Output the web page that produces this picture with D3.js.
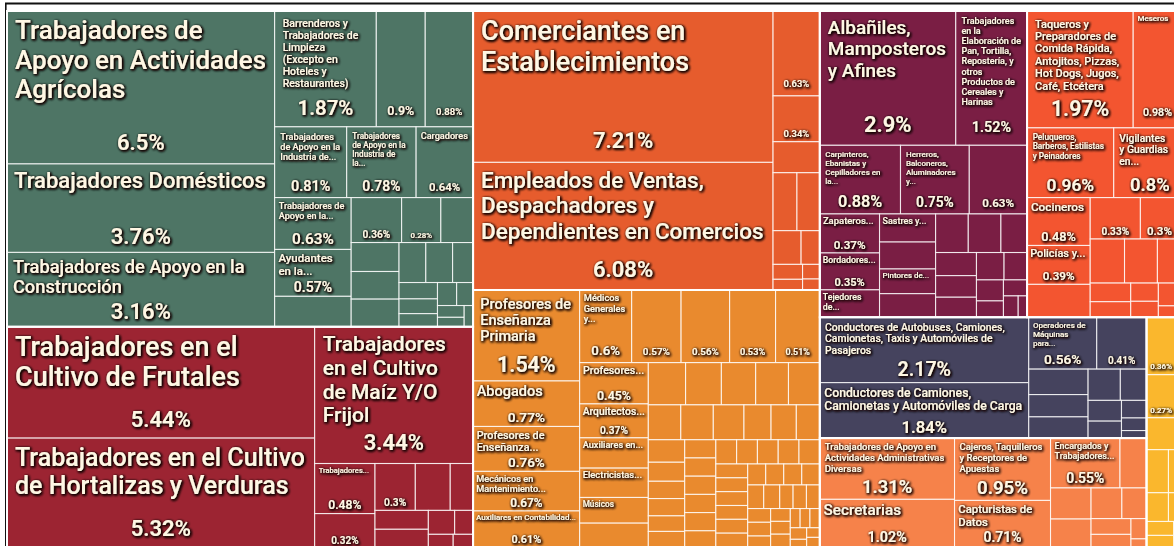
<!DOCTYPE html>
<html>
<head>
<meta charset="utf-8">
<script src="https://cdn.jsdelivr.net/npm/d3@7"></script>
<style>
  html, body { margin: 0; padding: 0; background: #fff; }
  svg { display: block; font-family: Roboto, 'Noto Sans', sans-serif; }
</style>
</head>
<body>
<div id="chart"></div>
<script>
// share of workers by occupation (%), grouped by division
const divisionNames = [
  'Trabajadores en Actividades Elementales y de Apoyo',
  'Trabajadores en Actividades Agrícolas, Ganaderas, Forestales, Caza y Pesca',
  'Comerciantes, Empleados en Ventas y Agentes de Ventas',
  'Profesionistas y Técnicos',
  'Trabajadores Artesanales',
  'Trabajadores en Servicios Personales y Vigilancia',
  'Operadores de Maquinaria Industrial, Ensambladores, Choferes y Conductores de Transporte',
  'Trabajadores Auxiliares en Actividades Administrativas',
  'Funcionarios, Directores y Jefes',
];

const elementalNames = [
  'Trabajadores de Apoyo en Actividades Agrícolas', 'Trabajadores Domésticos',
  'Trabajadores de Apoyo en la Construcción',
  'Barrenderos y Trabajadores de Limpieza (Excepto en Hoteles y Restaurantes)', '', '',
  'Trabajadores de Apoyo en la Industria de...', 'Trabajadores de Apoyo en la Industria de la...',
  'Cargadores', 'Trabajadores de Apoyo en la...', 'Ayudantes en la...',
];
const elementalShares = [6.5, 3.76, 3.16, 1.87, 0.9, 0.88, 0.81, 0.78, 0.64, 0.63, 0.57, 0.37, 0.36,
  0.28, 0.23, 0.22, 0.21, 0.21, 0.17, 0.17, 0.13, 0.1, 0.09, 0.08, 0.07, 0.06, 0.05, 0.04, 0.03];

const agroNames = [
  'Trabajadores en el Cultivo de Frutales', 'Trabajadores en el Cultivo de Hortalizas y Verduras',
  'Trabajadores en el Cultivo de Maíz Y/O Frijol', 'Trabajadores...',
];
const agroShares = [5.44, 5.32, 3.44, 0.48, 0.32, 0.3, 0.26, 0.17, 0.16, 0.15, 0.1, 0.07, 0.05, 0.04];

const ventasNames = [
  'Comerciantes en Establecimientos', 'Empleados de Ventas, Despachadores y Dependientes en Comercios',
];
const ventasShares = [7.21, 6.08, 0.63, 0.34, 0.23, 0.22, 0.21, 0.15, 0.1, 0.07, 0.05, 0.04, 0.03];

const profNames = [
  'Profesores de Enseñanza Primaria', 'Abogados', 'Profesores de Enseñanza...',
  'Mecánicos en Mantenimiento...', 'Auxiliares en Contabilidad...', 'Médicos Generales y...',
  '', '', '', '', 'Profesores...', 'Arquitectos...', 'Auxiliares en...', 'Electricistas...', 'Músicos',
];
const profShares = [1.54, 0.77, 0.76, 0.67, 0.61, 0.6, 0.57, 0.56, 0.53, 0.51, 0.45, 0.37, 0.33, 0.32,
  0.28, 0.26, 0.25, 0.24, 0.23, 0.22, 0.21, 0.18, 0.18, 0.17, 0.15, 0.14, 0.13, 0.13, 0.11, 0.1, 0.1,
  0.09, 0.09, 0.09, 0.09, 0.09, 0.09, 0.09, 0.08, 0.08, 0.08, 0.08, 0.08, 0.08, 0.07, 0.07, 0.07,
  0.07, 0.07, 0.07, 0.06, 0.06, 0.06, 0.06, 0.06, 0.06, 0.05, 0.05, 0.05, 0.05, 0.05, 0.04, 0.04,
  0.04, 0.04, 0.03, 0.03, 0.03, 0.03, 0.02, 0.02, 0.02];

const artesanalNames = [
  'Albañiles, Mamposteros y Afines',
  'Trabajadores en la Elaboración de Pan, Tortilla, Repostería, y otros Productos de Cereales y Harinas',
  'Carpinteros, Ebanistas y Cepilladores en la...', 'Herreros, Balconeros, Aluminadores y...', '',
  'Zapateros...', 'Bordadores...', 'Tejedores de...', 'Sastres y...', '', 'Pintores de...',
];
const artesanalShares = [2.9, 1.52, 0.88, 0.75, 0.63, 0.37, 0.35, 0.26, 0.25, 0.24, 0.22, 0.21, 0.2,
  0.2, 0.16, 0.15, 0.14, 0.13, 0.12, 0.1, 0.09, 0.07, 0.06, 0.05, 0.03];

const serviciosNames = [
  'Taqueros y Preparadores de Comida Rápida, Antojitos, Pizzas, Hot Dogs, Jugos, Café, Etcétera',
  'Meseros', 'Peluqueros, Barberos, Estilistas y Peinadores', 'Vigilantes y Guardias en...',
  'Cocineros', 'Policías y...',
];
const serviciosShares = [1.97, 0.98, 0.96, 0.8, 0.48, 0.39, 0.33, 0.33, 0.3, 0.24, 0.23, 0.2, 0.12,
  0.1, 0.08, 0.07, 0.06, 0.04, 0.03, 0.02];

const transporteNames = [
  'Conductores de Autobuses, Camiones, Camionetas, Taxis y Automóviles de Pasajeros',
  'Conductores de Camiones, Camionetas y Automóviles de Carga', 'Operadores de Máquinas para...',
];
const transporteShares = [2.17, 1.84, 0.56, 0.41, 0.24, 0.21, 0.2, 0.16, 0.13, 0.11, 0.09, 0.07, 0.05, 0.03];

const auxiliaresNames = [
  'Trabajadores de Apoyo en Actividades Administrativas Diversas', 'Secretarias',
  'Cajeros, Taquilleros y Receptores de Apuestas', 'Capturistas de Datos', 'Encargados y Trabajadores...',
];
const auxiliaresShares = [1.31, 1.02, 0.95, 0.71, 0.55, 0.21, 0.2, 0.18, 0.15, 0.12, 0.1, 0.08, 0.05, 0.02];

const directivosNames = [];
const directivosShares = [0.36, 0.27, 0.2, 0.15, 0.12, 0.1, 0.08, 0.06, 0.05, 0.05];

const divisionLeaves = [
  [elementalNames, elementalShares],
  [agroNames, agroShares],
  [ventasNames, ventasShares],
  [profNames, profShares],
  [artesanalNames, artesanalShares],
  [serviciosNames, serviciosShares],
  [transporteNames, transporteShares],
  [auxiliaresNames, auxiliaresShares],
  [directivosNames, directivosShares],
];

const palette = ['#4e7565', '#9c2432', '#e65c2d', '#e98a2e', '#7a1e44', '#f35530', '#45435e', '#f6824a', '#fab72d'];

const width = 1174;
const height = 546;
// the treemap runs a little past the right edge of the picture, as in the screenshot
const frame = { left: 7, top: 11, right: 1186, bottom: 547 };
const visibleRight = width - frame.left;
// the tiles are laid out in a narrower box and stretched sideways
const stretch = 1.23;
const plotWidth = frame.right - frame.left;
const plotHeight = frame.bottom - frame.top;
const layoutWidth = plotWidth / stretch;

const tree = {
  name: 'total',
  children: divisionNames.map((name, gi) => ({
    name,
    gi,
    children: divisionLeaves[gi][1].map((value, i) => ({ name: divisionLeaves[gi][0][i] || '', value, gi })),
  })),
};

const root = d3.hierarchy(tree)
  .sum((d) => d.value || 0)
  .sort((a, b) => b.value - a.value);

d3.treemap()
  .tile(d3.treemapSquarify)
  .size([layoutWidth, plotHeight])(root);

const x = d3.scaleLinear().domain([0, layoutWidth]).range([0, plotWidth]);

const svg = d3.select('#chart').append('svg')
  .attr('width', width)
  .attr('height', height);

const defs = svg.append('defs');
const shadow = defs.append('filter')
  .attr('id', 'txt-shadow')
  .attr('filterUnits', 'userSpaceOnUse')
  .attr('x', 0).attr('y', 0)
  .attr('width', width).attr('height', height);
shadow.append('feGaussianBlur').attr('in', 'SourceAlpha').attr('stdDeviation', 1.5).attr('result', 'blur');
shadow.append('feOffset').attr('in', 'blur').attr('dx', 0.8).attr('dy', 1).attr('result', 'off');
shadow.append('feFlood').attr('flood-color', '#1c0c06').attr('flood-opacity', 0.95);
shadow.append('feComposite').attr('in2', 'off').attr('operator', 'in').attr('result', 'shade');
const merge = shadow.append('feMerge');
merge.append('feMergeNode').attr('in', 'shade');
merge.append('feMergeNode').attr('in', 'shade');
merge.append('feMergeNode').attr('in', 'shade');
merge.append('feMergeNode').attr('in', 'SourceGraphic');

// frame lines of the screenshot
svg.append('line')
  .attr('x1', 5).attr('x2', width).attr('y1', 3.5).attr('y2', 3.5)
  .attr('stroke', '#111').attr('stroke-width', 2);
svg.append('line')
  .attr('x1', 5.8).attr('x2', 5.8).attr('y1', 3).attr('y2', height)
  .attr('stroke', '#111').attr('stroke-width', 1.6);

const plot = svg.append('g')
  .attr('transform', `translate(${frame.left},${frame.top})`);

const leaves = root.leaves();

plot.append('g').attr('class', 'cells')
  .selectAll('rect')
  .data(leaves)
  .join('rect')
  .attr('x', (d) => x(d.x0))
  .attr('y', (d) => d.y0)
  .attr('width', (d) => x(d.x1) - x(d.x0))
  .attr('height', (d) => d.y1 - d.y0)
  .attr('fill', (d) => palette[d.data.gi])
  .attr('stroke', 'rgba(255,255,255,0.8)')
  .attr('stroke-width', 1.1);

plot.append('g').attr('class', 'divisions')
  .selectAll('rect')
  .data(root.children)
  .join('rect')
  .attr('x', (d) => x(d.x0))
  .attr('y', (d) => d.y0)
  .attr('width', (d) => x(d.x1) - x(d.x0))
  .attr('height', (d) => d.y1 - d.y0)
  .attr('fill', 'none')
  .attr('stroke', '#fff')
  .attr('stroke-width', 2);

// text measuring, at 100px and scaled
const measurer = svg.append('text')
  .attr('x', -2000).attr('y', -2000)
  .style('font-size', '100px');
const widthCache = new Map();
function measure(str, weight) {
  const key = `${weight}|${str}`;
  if (!widthCache.has(key)) {
    measurer.attr('font-weight', weight).text(str);
    widthCache.set(key, measurer.node().getComputedTextLength() / 100);
  }
  return widthCache.get(key);
}

function wrapWords(words, size, maxWidth) {
  const lines = [];
  let line = '';
  for (const word of words) {
    const test = line ? `${line} ${word}` : word;
    if (measure(test, 500) * size <= maxWidth) {
      line = test;
    } else {
      if (!line || measure(word, 500) * size > maxWidth) return null;
      lines.push(line);
      line = word;
    }
  }
  if (line) lines.push(line);
  return lines;
}

// biggest font that fits; a single line gets a small bonus
function fitName(name, maxWidth, maxHeight, maxSize) {
  const words = name.split(/\s+/);
  let best = null;
  for (let size = maxSize; size >= 5.5; size -= 0.5) {
    const lines = wrapWords(words, size, maxWidth);
    if (lines && size * ((lines.length - 1) * 1.13 + 0.95) <= maxHeight) {
      const score = lines.length === 1 ? size * 1.07 : size;
      if (!best || score > best.score) best = { size, lines, score };
    }
  }
  return best;
}

const labels = plot.append('g')
  .attr('class', 'labels')
  .attr('filter', 'url(#txt-shadow)')
  .attr('fill', '#fff7e4');

leaves.forEach((d) => {
  const left = x(d.x0);
  const w = x(d.x1) - left;
  const h = d.y1 - d.y0;
  const right = Math.min(x(d.x1), visibleRight);
  const pad = Math.max(3, Math.min(8, Math.min(w, h) * 0.08));
  const share = `${d.data.value}%`;
  const showShare = w >= 38.6 && h >= 33 && w * h >= 1600;
  let shareSize = 0;
  let shareBase = d.y1;
  let nameBottom = d.y1 - pad;
  if (showShare) {
    shareSize = Math.min(22, (0.55 * w) / measure(share, 600), h * 0.3);
    shareBase = d.y1 - Math.max(3, Math.min(14, h * 0.1));
    nameBottom = Math.min(shareBase - shareSize * 0.8 - 3, d.y1 - Math.min(h * 0.4, 36));
  }

  if (d.data.name && w > 20 && h > 14) {
    const fit = fitName(d.data.name, right - left - 2 * pad, nameBottom - d.y0 - pad, Math.min(27, h * 0.32));
    if (fit) {
      const text = labels.append('text')
        .attr('x', left + pad)
        .attr('y', d.y0 + pad + fit.size * 0.78)
        .attr('font-size', fit.size)
        .attr('font-weight', 500);
      text.selectAll('tspan')
        .data(fit.lines)
        .join('tspan')
        .attr('x', left + pad)
        .attr('dy', (l, i) => (i ? fit.size * 1.13 : 0))
        .text((l) => l);
    }
  }

  if (showShare) {
    const half = (measure(share, 600) * shareSize) / 2;
    labels.append('text')
      .attr('x', Math.min(left + w / 2, visibleRight - half - 2))
      .attr('y', shareBase)
      .attr('text-anchor', 'middle')
      .attr('font-size', shareSize)
      .attr('font-weight', 600)
      .text(share);
  }
});

measurer.remove();
</script>
</body>
</html>
